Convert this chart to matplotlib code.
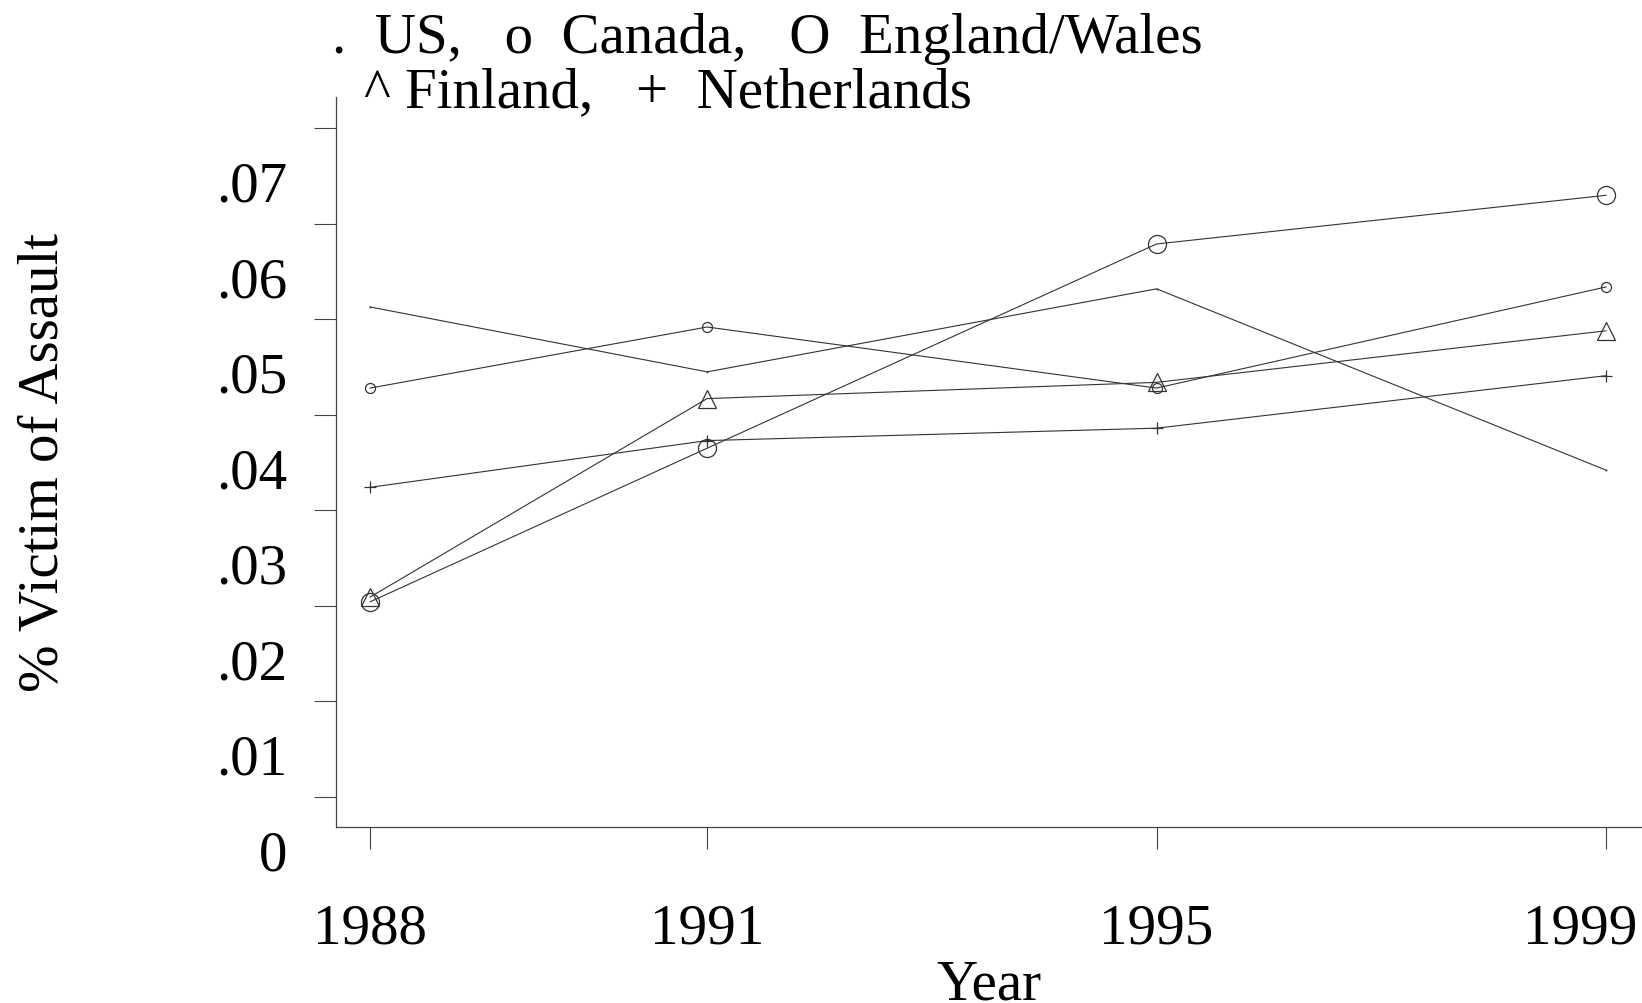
#!/usr/bin/env python3

import matplotlib
matplotlib.use("Agg")

import matplotlib.pyplot as plt
import matplotlib.transforms as mtransforms
import numpy as np

OUTPUT_FNAME = "out.png"

years = [1988, 1991, 1995, 1999]

# share of people who were victim of assault
us = [0.0568, 0.0500, 0.0587, 0.0397]
canada = [0.0483, 0.0547, 0.0483, 0.0589]
england_wales = [0.0259, 0.0420, 0.0634, 0.0685]
finland = [0.0264, 0.0472, 0.0489, 0.0543]
netherlands = [0.0379, 0.0428, 0.0441, 0.0496]

ytick_labels = ["0", ".01", ".02", ".03", ".04", ".05", ".06", ".07"]
ytick_values = [0.0, 0.01, 0.02, 0.03, 0.04, 0.05, 0.06, 0.07]

legend_line1 = ".  US,   o  Canada,   O  England/Wales"
legend_line2 = "^ Finland,   +  Netherlands"

FONT = "Liberation Serif"
FS = 41
LINE_COLOR = "#333333"

# (series, marker, markersize)
series = [
    (us, ".", 1),
    (canada, "o", 7.2),
    (england_wales, "o", 13),
    (finland, "^", 13),
    (netherlands, "+", 8),
]


def plot():
    plt.rcParams["font.family"] = [FONT, "DejaVu Serif"]

    fig = plt.figure(figsize=(16.42, 10.04), dpi=100)
    ax = fig.add_axes([336 / 1642, 1 - 828 / 1004, 1 - 336 / 1642, 730 / 1004])

    for vals, marker, ms in series:
        ax.plot(years, vals, color=LINE_COLOR, linewidth=0.8, marker=marker,
                markersize=ms, markerfacecolor="none",
                markeredgecolor=LINE_COLOR, markeredgewidth=0.9,
                clip_on=False)

    ax.set_xlim(1987.697, 1999.32)
    ax.set_ylim(0.00231, 0.0788)

    ax.spines["top"].set_visible(False)
    ax.spines["right"].set_visible(False)
    for s in ("left", "bottom"):
        ax.spines[s].set_color("#444444")
        ax.spines[s].set_linewidth(0.9)

    # the old graph draws its y ticks half a step off the labels
    ax.set_yticks(np.array(ytick_values) + 0.0055, labels=[])
    for v, lab in zip(ytick_values, ytick_labels):
        ax.text(-49 / 1306, v, lab, transform=ax.get_yaxis_transform(),
                ha="right", va="center_baseline", fontsize=FS, clip_on=False)

    ax.set_xticks(years, labels=[str(y) for y in years])
    ax.tick_params(axis="both", direction="out", length=16, width=0.8,
                   color="#444444")
    ax.tick_params(axis="x", pad=38, labelsize=FS)

    # last year label is pulled in so it stays inside the picture
    last = ax.get_xticklabels()[-1]
    last.set_horizontalalignment("right")
    last.set_transform(last.get_transform() + mtransforms.ScaledTranslation(
        0.31, 0, fig.dpi_scale_trans))

    fig.text(989 / 1642, 1 - 1000 / 1004, "Year", ha="center",
             va="baseline", fontsize=FS)
    fig.text(58 / 1642, 1 - 463 / 1004, "% Victim of Assault", rotation=90,
             rotation_mode="anchor", ha="center", va="baseline", fontsize=FS)

    fig.text(332 / 1642, 1 - 53 / 1004, legend_line1, ha="left",
             va="baseline", fontsize=FS)
    fig.text(364 / 1642, 1 - 107 / 1004, legend_line2, ha="left",
             va="baseline", fontsize=FS)

    fig.savefig(OUTPUT_FNAME, dpi=100)


def main():
    plot()


if __name__ == "__main__":
    main()
